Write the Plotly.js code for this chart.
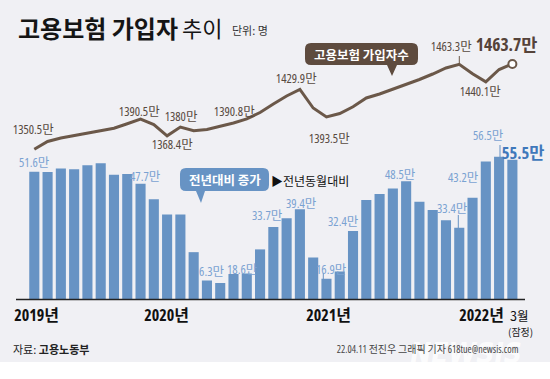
<!DOCTYPE html>
<html><head><meta charset="utf-8">
<script src="https://cdn.plot.ly/plotly-3.0.1.min.js"></script>
<style>html,body{margin:0;padding:0;background:#fff;}#chart{width:550px;height:379px;}</style>
</head><body><div id="chart"></div>
<script>
// ---- data ----
const months = ['2019.03','2019.04','2019.05','2019.06','2019.07','2019.08','2019.09','2019.10','2019.11','2019.12',
  '2020.01','2020.02','2020.03','2020.04','2020.05','2020.06','2020.07','2020.08','2020.09','2020.10','2020.11','2020.12',
  '2021.01','2021.02','2021.03','2021.04','2021.05','2021.06','2021.07','2021.08','2021.09','2021.10','2021.11','2021.12',
  '2022.01','2022.02','2022.03'];
// 고용보험 가입자수 (만 명)
const subscribers = [1350.5,1360.9,1365.5,1368.8,1372.1,1375.3,1378.5,1384.4,1390.5,1383.4,
  1368.4,1380.0,1375.2,1376.8,1380.8,1385.4,1390.8,1399.3,1410.6,1421.2,1429.9,1405.3,
  1393.5,1398.0,1407.0,1418.6,1423.9,1430.1,1436.5,1443.1,1450.4,1458.4,1463.3,1450.7,
  1440.1,1456.4,1463.7];
// 전년동월대비 증가 (만 명)
const yoyIncrease = [51.6,51.5,52.7,52.4,53.7,54.4,50.6,50.9,47.7,42.7,
  37.7,37.7,25.5,16.3,15.5,18.4,18.6,26.4,33.7,36.5,39.4,23.8,
  16.9,19.2,32.4,42.4,44.4,46.2,48.5,41.9,39.2,35.9,33.4,43.2,
  54.9,56.5,55.5];
const yearLabels = ['2019년','2020년','2021년','2022년'];
const lineLabelTexts = ['1350.5만','1390.5만','1368.4만','1380만','1390.8만','1429.9만','1393.5만','1463.3만','1440.1만','1463.7만'];
const barLabelTexts = ['51.6만','47.7만','6.3만','18.6만','33.7만','39.4만','16.9만','32.4만','48.5만','33.4만','43.2만','56.5만','55.5만'];

// ---- font detection: find a face that really condenses ----
function stretchRatio(fam) {
  try {
    const c = document.createElement('canvas').getContext('2d');
    c.font = "40px '" + fam + "', monospace";
    if ('fontStretch' in c) c.fontStretch = 'normal';
    const a = c.measureText('1390.5 2019').width;
    if (!('fontStretch' in c)) return 1;
    c.fontStretch = 'condensed';
    const b = c.measureText('1390.5 2019').width;
    return b / a;
  } catch (e) { return 1; }
}
let NFAM = 'Roboto', best = 1;
['Open Sans', 'DejaVu Sans', 'Noto Sans', 'Roboto', 'Liberation Sans', 'Inter'].forEach(f => {
  const r = stretchRatio(f);
  if (r < best - 0.01) { best = r; NFAM = f; }
});
const CONDENSED = best < 0.93;
if (CONDENSED) {
  const st = document.createElement('style');
  st.textContent = '#chart text { font-stretch: condensed; }';
  document.head.appendChild(st);
}
const K = CONDENSED ? 1 : 0.84;
const NUM = "'" + NFAM + "', 'Noto Sans CJK KR', sans-serif";
const KR = "'Noto Sans CJK KR', sans-serif";

// ---- geometry (pixels) ----
const W = 550, H = 379;
const X0 = 34.3, DX = 13.28;     // first bar centre, bar step
const BASE_PX = 299.5;           // bar baseline
const BAR_MIN = 10.13, BAR_PXU = 3.08;
const LINE_TOP = 1548.6, LINE_BOT = 1151.2;

const px = x => x / W;
const py = y => 1 - y / H;
const BROWN = '#6b5849', BROWN_TXT = '#574940', BLUE = '#6793c4', BLUE_TXT = '#7aa2d2';

function ann(text, x, y, font, extra) {
  return Object.assign({xref:'paper', yref:'paper', x:px(x), y:py(y), xanchor:'center', yanchor:'middle',
    showarrow:false, text:text, font:font, borderpad:0}, extra || {});
}
function bubble(x0, y0, x1, y1, r, tl, tr, tx, ty, color) {
  const P = (x, y) => px(x).toFixed(5) + ',' + py(y).toFixed(5);
  const path = 'M' + P(x0 + r, y0) + ' L' + P(x1 - r, y0) + ' Q' + P(x1, y0) + ' ' + P(x1, y0 + r) +
    ' L' + P(x1, y1 - r) + ' Q' + P(x1, y1) + ' ' + P(x1 - r, y1) +
    ' L' + P(tr, y1) + ' L' + P(tx, ty) + ' L' + P(tl, y1) +
    ' L' + P(x0 + r, y1) + ' Q' + P(x0, y1) + ' ' + P(x0, y1 - r) +
    ' L' + P(x0, y0 + r) + ' Q' + P(x0, y0) + ' ' + P(x0 + r, y0) + ' Z';
  return {type:'path', xref:'paper', yref:'paper', path:path, fillcolor:color, line:{width:0}, layer:'above'};
}
function vline(x, y0, y1, color) {
  return {type:'line', xref:'paper', yref:'paper', x0:px(x), x1:px(x), y0:py(y0), y1:py(y1), line:{color:color, width:1}};
}

const traces = [
  {type:'bar', x:months, y:yoyIncrease, width:0.76, marker:{color:BLUE, line:{width:0}}, hoverinfo:'skip'},
  {type:'scatter', mode:'lines', x:months, y:subscribers, yaxis:'y2', line:{color:BROWN, width:3}, hoverinfo:'skip'},
  {type:'scatter', mode:'markers', x:[months[months.length-1]], y:[subscribers[subscribers.length-1]], yaxis:'y2',
   marker:{symbol:'circle', size:8, color:'#ffffff', line:{color:BROWN, width:2}}, hoverinfo:'skip'}
];

const fLine = {family:NUM, size:12.5 * K, color:BROWN_TXT};
const fBar = {family:NUM, size:12.5 * K, color:BLUE_TXT};
const fYear = {family:NUM, size:16 * K, color:'#111', weight:700};

const lineLabelPos = [[33,130],[139,112],[172,145],[181,116],[234,112],[296,79],[329,138],[451,47],[480,92]];
const barLabelPos = [[34,162],[145,176],[212,271],[242,269],[267,215],[301,203],[331,269],[343,221],[400,174],[452,208],[463,177],[488,136]];

const annotations = [
  ann('<b>고용보험 가입자</b>', 17, 27, {family:KR, size:24, color:'#151515'}, {xanchor:'left'}),
  ann('추이', 181, 27, {family:KR, size:22, color:'#151515'}, {xanchor:'left'}),
  ann('단위: 명', 231, 30, {family:KR, size:11, color:'#333'}, {xanchor:'left'}),
  ann('고용보험 가입자수', 361.5, 54, {family:KR, size:12.5, color:'#ffffff', weight:700}),
  ann('전년대비 증가', 224.5, 179.5, {family:KR, size:12.5, color:'#ffffff', weight:700}),
  ann('▶전년동월대비', 310, 180, {family:KR, size:12, color:'#111'}),
  ann(lineLabelTexts[9], 543, 44, {family:NUM, size:(CONDENSED ? 17.5 : 14.5), color:'#55433a', weight:700}, {xanchor:'right'}),
  ann(barLabelTexts[12], 548, 152, {family:NUM, size:(CONDENSED ? 16.5 : 13.5), color:'#3f78bb', weight:700}, {xanchor:'right'}),
  ann(yearLabels[0], 36, 314.5, fYear),
  ann(yearLabels[1], 166.5, 314.5, fYear),
  ann(yearLabels[2], 328, 314.5, fYear),
  ann(yearLabels[3], 508, 314.5, fYear, {xanchor:'right'}),
  ann('3월', 509, 315, {family:KR, size:12.5, color:'#111'}, {xanchor:'left'}),
  ann('(잠정)', 520, 331, {family:KR, size:10, color:'#222'}),
  ann('자료: <b>고용노동부</b>', 12, 349, {family:KR, size:11, color:'#222'}, {xanchor:'left'}),
  ann('NEWSIS', 466, 353, {family:"'DejaVu Sans', sans-serif", size:28, color:'rgba(255,255,255,0.8)', weight:700, style:'italic'}),
  ann('22.04.11 전진우 그래픽 기자 618tue@newsis.com', 538, 349, {family:NUM, size:(CONDENSED ? 10 : 10), color:'#444'}, {xanchor:'right'})
];
lineLabelPos.forEach((p, i) => annotations.push(ann(lineLabelTexts[i], p[0], p[1], fLine)));
barLabelPos.forEach((p, i) => annotations.push(ann(barLabelTexts[i], p[0], p[1], fBar)));

const shapes = [
  {type:'rect', xref:'paper', yref:'paper', x0:0, x1:1, y0:py(362), y1:1, fillcolor:'#f0f0f4', line:{width:0}, layer:'below'},
  {type:'line', xref:'paper', yref:'paper', x0:px(16), x1:px(525), y0:py(BASE_PX), y1:py(BASE_PX), line:{color:'#222', width:1.5}},
  bubble(305, 43, 418, 65, 6, 387, 397, 392, 76, '#5e4b3e'),
  bubble(180, 168, 269, 191, 6, 196, 205, 201, 203, BLUE),
  vline(459.3, 56, 64, BROWN),
  vline(323.3, 273, 279, BLUE),
  vline(458.3, 215, 228, BLUE),
  vline(500, 145, 157, BLUE)
];

const layout = {
  width:W, height:H, margin:{l:0, r:0, t:0, b:0},
  paper_bgcolor:'#ffffff', plot_bgcolor:'rgba(0,0,0,0)',
  showlegend:false, bargap:0.24,
  xaxis:{type:'category', range:[-X0/DX, (W - X0)/DX], showgrid:false, zeroline:false, showline:false, showticklabels:false, fixedrange:true},
  yaxis:{domain:[1 - BASE_PX/H, 1], range:[BAR_MIN, BAR_MIN + BASE_PX/BAR_PXU], showgrid:false, zeroline:false, showline:false, showticklabels:false},
  yaxis2:{overlaying:'y', range:[LINE_BOT, LINE_TOP], showgrid:false, zeroline:false, showline:false, showticklabels:false},
  annotations:annotations, shapes:shapes
};

Plotly.newPlot('chart', traces, layout, {staticPlot:true, displayModeBar:false});
</script>
</body></html>
